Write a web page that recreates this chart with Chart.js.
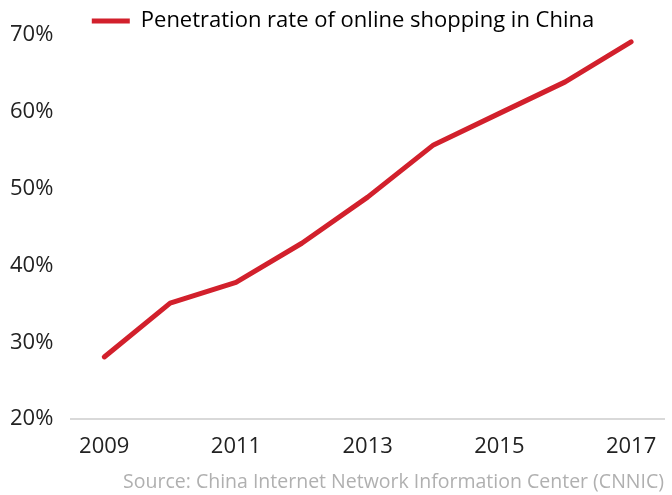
<!DOCTYPE html>
<html>
<head>
<meta charset="utf-8">
<script src="https://cdn.jsdelivr.net/npm/chart.js@4"></script>
<style>
  html, body { margin: 0; padding: 0; background: #fff; }
  #wrap { width: 672px; height: 495px; }
</style>
</head>
<body>
<div id="wrap"><canvas id="penetracion"></canvas></div>
<script>
const years = ["2009", "2010", "2011", "2012", "2013", "2014", "2015", "2016", "2017"];
const penetrationRate = [28.1, 35.1, 37.8, 42.9, 48.9, 55.7, 59.8, 63.9, 69.1];
const yTicks = [20, 30, 40, 50, 60, 70];
const seriesName = "Penetration rate of online shopping in China";
const sourceText = "Source: China Internet Network Information Center (CNNIC)";

const fuente = "'Open Sans', 'Noto Sans', sans-serif";
const canvas = document.querySelector("#penetracion");

// mover la leyenda un poco a la derecha y abajo, como en el original
const moverLeyenda = {
  id: "moverLeyenda",
  afterLayout: (chart) => {
    chart.legend.left += 11;
    chart.legend.right += 11;
    chart.legend.top += 7;
    chart.legend.bottom += 7;
  },
};

const chartConfig = {
  type: "line",
  data: {
    labels: years,
    datasets: [
      {
        label: seriesName,
        data: penetrationRate,
        borderColor: "#d2202c",
        backgroundColor: "#d2202c",
        borderWidth: 5,
        borderCapStyle: "round",
        borderJoinStyle: "round",
        pointRadius: 0,
        tension: 0,
      },
    ],
  },
  options: {
    responsive: true,
    maintainAspectRatio: false,
    animation: false,
    layout: { padding: { left: 0, right: 8, top: 0, bottom: 1 } },
    plugins: {
      legend: {
        position: "top",
        labels: {
          font: { family: fuente, size: 22 },
          color: "#222",
          boxWidth: 38,
          boxHeight: 5,
          padding: 3,
          generateLabels: (chart) => [
            {
              text: seriesName,
              fillStyle: "#d2202c",
              strokeStyle: "#d2202c",
              lineWidth: 0,
              datasetIndex: 0,
            },
          ],
        },
      },
      subtitle: {
        display: true,
        text: sourceText,
        position: "bottom",
        align: "end",
        color: "#b0b0b0",
        font: { family: fuente, size: 19.5, weight: "normal" },
        padding: { top: 5, bottom: 0 },
      },
      tooltip: { enabled: false },
    },
    scales: {
      x: {
        offset: true,
        grid: { display: false },
        border: { display: true, color: "#d9d9d9", width: 2 },
        ticks: {
          autoSkip: false,
          maxRotation: 0,
          color: "#222",
          font: { family: fuente, size: 22 },
          padding: 6,
          callback: (value, index) => (index % 2 === 0 ? years[index] : ""),
        },
      },
      y: {
        min: yTicks[0],
        max: yTicks[yTicks.length - 1],
        grid: { display: false },
        border: { display: false },
        afterBuildTicks: (axis) => {
          axis.ticks = yTicks.map((v) => ({ value: v }));
        },
        ticks: {
          color: "#222",
          font: { family: fuente, size: 22 },
          padding: 10,
          callback: (value) => value + "%",
        },
      },
    },
  },
  plugins: [moverLeyenda],
};

const chart = new Chart(canvas, chartConfig);
</script>
</body>
</html>
